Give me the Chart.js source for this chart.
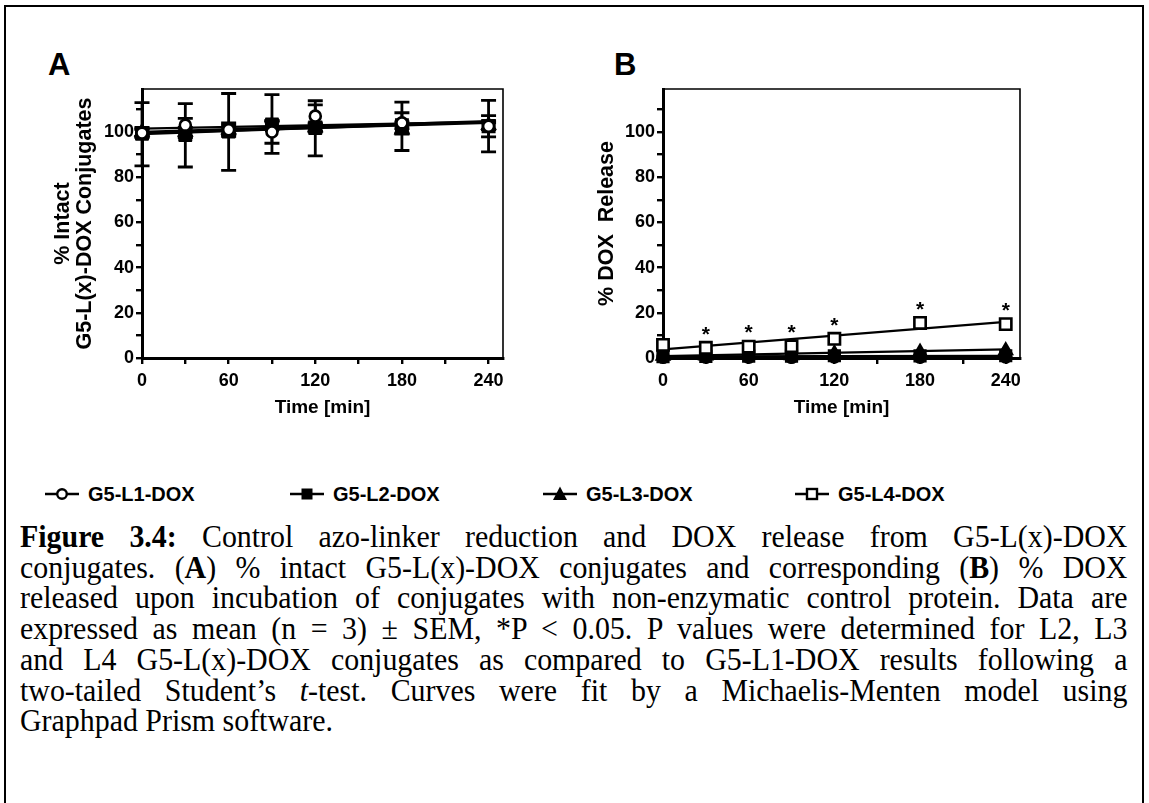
<!DOCTYPE html>
<html>
<head>
<meta charset="utf-8">
<script src="https://cdn.jsdelivr.net/npm/chart.js@4.4.1/dist/chart.umd.min.js"></script>
<style>
  html, body { margin: 0; padding: 0; background: #fff; }
  body { width: 1149px; height: 803px; position: relative; overflow: hidden; }
  #frame { position: absolute; left: 4px; top: 5px; width: 1140px; height: 810px; border: 2px solid #000; box-sizing: border-box; }
  .plabel { position: absolute; font: bold 31px "Liberation Sans", Arial, sans-serif; line-height: 31px; color: #000; }
  .cv { position: absolute; }
  #legend { position: absolute; left: 0; top: 481px; width: 1149px; height: 26px; }
  .li { position: absolute; top: 0; height: 26px; display: flex; align-items: center; font: bold 20px "Liberation Sans", Arial, sans-serif; color: #000; white-space: nowrap; }
  #caption { position: absolute; left: 20px; top: 522px; width: 1130px; transform: scaleX(0.98); transform-origin: 0 0;
             font-family: "Liberation Serif", "Times New Roman", serif; font-size: 30.5px; line-height: 30.7px; color: #000; }
  #caption .ln { text-align: justify; text-align-last: justify; }
  #caption .last { text-align: left; }
</style>
</head>
<body>
  <div id="frame"></div>
  <div class="plabel" style="left:48px; top:49px;">A</div>
  <div class="plabel" style="left:614px; top:49px;">B</div>
  <canvas id="chartA" class="cv" width="560" height="370" style="left:0px; top:60px;"></canvas>
  <canvas id="chartB" class="cv" width="560" height="370" style="left:560px; top:60px;"></canvas>
  <div id="legend"></div>
  <div id="caption">
    <div class="ln"><b>Figure 3.4:</b> Control azo-linker reduction and DOX release from G5-L(x)-DOX</div>
    <div class="ln">conjugates. (<b>A</b>) % intact G5-L(x)-DOX conjugates and corresponding (<b>B</b>) % DOX</div>
    <div class="ln">released upon incubation of conjugates with non-enzymatic control protein. Data are</div>
    <div class="ln">expressed as mean (n = 3) ± SEM, *P &lt; 0.05. P values were determined for L2, L3</div>
    <div class="ln">and L4 G5-L(x)-DOX conjugates as compared to G5-L1-DOX results following a</div>
    <div class="ln">two-tailed Student’s <i>t</i>-test. Curves were fit by a Michaelis-Menten model using</div>
    <div class="last">Graphpad Prism software.</div>
  </div>
<script>
// ---------------- DATA ----------------
const seriesNames = ['G5-L1-DOX', 'G5-L2-DOX', 'G5-L3-DOX', 'G5-L4-DOX'];
const times = [0, 30, 60, 90, 120, 180, 240];
const xTickLabels = [0, 60, 120, 180, 240];
const yTickLabels = [0, 20, 40, 60, 80, 100];

// Panel A: % intact conjugates (mean, SEM)
const intactL1 = [99.5, 103, 101, 100, 107, 104, 102.5];
const intactL1Err = [2, 3, 3, 5, 5, 4.5, 4.7];
const intactL2 = [99, 98.5, 100, 103.5, 101.6, 102.5, 102.6];
const intactL2Err = [14, 14, 17, 13, 12.2, 10.7, 11.4];
const intactL3 = [100, 100, 101, 103, 102, 101, 103];
const intactL3Err = [2, 2, 2, 2, 2, 2, 2];
const intactL4 = [99.5, 99, 100.5, 103, 102, 103, 102.5];
const intactL4Err = [1.5, 1.5, 1.5, 1.5, 1.5, 1.5, 1.5];

// Panel A fitted curves (start, end)
const fitTimes = [0, 240];
const intactFitL1 = [101.5, 104.5];
const intactFitL2 = [99, 104.5];
const intactFitL3 = [100, 104.8];
const intactFitL4 = [99.5, 104];

// Panel B: % DOX release
const releaseL1 = [0.3, 0.4, 0.4, 0.3, 0.5, 0.4, 0.5];
const releaseL2 = [0.6, 0.7, 0.8, 0.8, 1.0, 0.9, 1.0];
const releaseL3 = [0.9, 1.0, 1.2, 1.1, 2.0, 2.6, 3.3];
const releaseL4 = [5.8, 4.5, 5.0, 5.2, 8.5, 15.5, 15.0];
const releaseSigL4 = ['', '*', '*', '*', '*', '*', '*'];

// Panel B fitted curves (start, end)
const releaseFitL1 = [0.4, 0.6];
const releaseFitL2 = [0.7, 1.0];
const releaseFitL3 = [0.8, 3.8];
const releaseFitL4 = [3.8, 16.0];

// ---------------- BUILD ----------------
Chart.defaults.font.family = '"Liberation Sans", Arial, sans-serif';
Chart.defaults.color = '#000';

const markerStyles = [
  { pointStyle: 'circle', radius: 5.5, fill: '#fff' },
  { pointStyle: 'rect', radius: 7.5, fill: '#000' },
  { pointStyle: 'triangle', radius: 7, fill: '#000' },
  { pointStyle: 'rect', radius: 8, fill: '#fff' }
];

function pts(xs, ys) { return xs.map((x, i) => ({ x: x, y: ys[i] })); }

function markerDataset(idx, ys, errs, sig) {
  const m = markerStyles[idx];
  return {
    type: 'scatter', label: seriesNames[idx], data: pts(times, ys),
    errors: errs || null, sig: sig || null,
    pointStyle: m.pointStyle, pointRadius: m.radius, pointBackgroundColor: m.fill,
    pointBorderColor: '#000', pointBorderWidth: 2.6, showLine: false, clip: false
  };
}
function fitDataset(idx, ys) {
  return {
    type: 'line', label: seriesNames[idx] + ' fit', data: pts(fitTimes, ys),
    borderColor: '#000', borderWidth: 2.2, pointRadius: 0, fill: false, tension: 0, clip: false
  };
}

const decorPlugin = {
  id: 'decor',
  beforeDatasetsDraw(chart) {
    const { ctx, chartArea: a, scales: { x, y } } = chart;
    ctx.save();
    ctx.strokeStyle = '#000';
    ctx.lineWidth = 1.6;
    ctx.beginPath();
    ctx.moveTo(a.left, a.top); ctx.lineTo(a.right, a.top); ctx.lineTo(a.right, a.bottom);
    ctx.stroke();
    ctx.lineWidth = 2.8;
    chart.data.datasets.forEach((ds) => {
      if (!ds.errors) return;
      ds.data.forEach((p, j) => {
        const e = ds.errors[j];
        if (!e) return;
        const px = x.getPixelForValue(p.x);
        const t = y.getPixelForValue(p.y + e);
        const b = y.getPixelForValue(p.y - e);
        ctx.beginPath();
        ctx.moveTo(px, t); ctx.lineTo(px, b);
        ctx.moveTo(px - 7.5, t); ctx.lineTo(px + 7.5, t);
        ctx.moveTo(px - 7.5, b); ctx.lineTo(px + 7.5, b);
        ctx.stroke();
      });
    });
    ctx.restore();
  },
  afterDatasetsDraw(chart) {
    const { ctx, scales: { x, y } } = chart;
    ctx.save();
    ctx.fillStyle = '#000';
    ctx.font = 'bold 21px "Liberation Sans", Arial, sans-serif';
    ctx.textAlign = 'center';
    ctx.textBaseline = 'middle';
    chart.data.datasets.forEach((ds) => {
      if (!ds.sig) return;
      ds.data.forEach((p, j) => {
        if (!ds.sig[j]) return;
        ctx.fillText(ds.sig[j], x.getPixelForValue(p.x), y.getPixelForValue(p.y) - 13);
      });
    });
    ctx.restore();
  }
};

function makeChart(id, datasets, cfg) {
  const tickFont = { size: 18, weight: 'bold' };
  const grid = { drawOnChartArea: false, drawTicks: true, tickLength: 6, color: '#000', lineWidth: 2.4 };
  const border = { display: true, color: '#000', width: 3 };
  return new Chart(document.getElementById(id), {
    data: { datasets: datasets },
    options: {
      responsive: false, animation: false, events: [],
      layout: { padding: { left: 0, top: 29, right: cfg.padRight, bottom: 0 } },
      plugins: { legend: { display: false }, tooltip: { enabled: false } },
      scales: {
        x: {
          type: 'linear', min: 0, max: 250, position: 'bottom',
          grid: grid, border: border,
          ticks: { stepSize: 30, includeBounds: false, autoSkip: false, maxRotation: 0, padding: 6, font: tickFont,
                   callback: (v) => xTickLabels.includes(v) ? String(v) : '' },
          title: { display: true, text: 'Time [min]', font: { size: 19, weight: 'bold', lineHeight: 1.15 }, padding: { top: 0, bottom: 11 } },
          afterFit: (s) => { s.height = 72; }
        },
        y: {
          type: 'linear', min: 0, max: 119, position: 'left',
          grid: grid, border: border,
          ticks: { stepSize: 10, includeBounds: false, autoSkip: false, padding: 2, font: tickFont,
                   callback: (v) => yTickLabels.includes(v) ? String(v) : '' },
          title: { display: true, text: cfg.yTitle, font: { size: 21.5, weight: 'bold', lineHeight: '22px' }, padding: { top: cfg.titlePadTop, bottom: 0 } },
          afterFit: (s) => { s.width = cfg.yAxisWidth; }
        }
      }
    },
    plugins: [decorPlugin]
  });
}

makeChart('chartA', [
  markerDataset(0, intactL1, intactL1Err),
  markerDataset(1, intactL2, intactL2Err),
  markerDataset(2, intactL3, intactL3Err),
  markerDataset(3, intactL4, intactL4Err),
  fitDataset(0, intactFitL1),
  fitDataset(1, intactFitL2),
  fitDataset(2, intactFitL3),
  fitDataset(3, intactFitL4)
], { yTitle: ['% Intact', 'G5-L(x)-DOX Conjugates'], titlePadTop: 52, yAxisWidth: 142, padRight: 57 });

makeChart('chartB', [
  markerDataset(3, releaseL4, null, releaseSigL4),
  markerDataset(2, releaseL3, null),
  markerDataset(1, releaseL2, null),
  markerDataset(0, releaseL1, null),
  fitDataset(0, releaseFitL1),
  fitDataset(1, releaseFitL2),
  fitDataset(2, releaseFitL3),
  fitDataset(3, releaseFitL4)
], { yTitle: '% DOX  Release', titlePadTop: 36, yAxisWidth: 103, padRight: 100 });

// ---------------- LEGEND ----------------
const legendX = [45, 290, 543, 795];
const legendSvg = [
  '<circle cx="17" cy="10" r="4.8" fill="#fff" stroke="#000" stroke-width="2.4"/>',
  '<rect x="11.5" y="4.5" width="11" height="11" fill="#000"/>',
  '<polygon points="17,2.5 24,16 10,16" fill="#000"/>',
  '<rect x="12" y="5" width="10" height="10" fill="#fff" stroke="#000" stroke-width="2.4"/>'
];
const legendEl = document.getElementById('legend');
seriesNames.forEach((name, i) => {
  const d = document.createElement('div');
  d.className = 'li';
  d.style.left = legendX[i] + 'px';
  d.innerHTML = '<svg width="34" height="20" viewBox="0 0 34 20"><line x1="0" y1="10" x2="34" y2="10" stroke="#000" stroke-width="2.6"/>' +
    legendSvg[i] + '</svg><span style="margin-left:9px">' + name + '</span>';
  legendEl.appendChild(d);
});
</script>
</body>
</html>
